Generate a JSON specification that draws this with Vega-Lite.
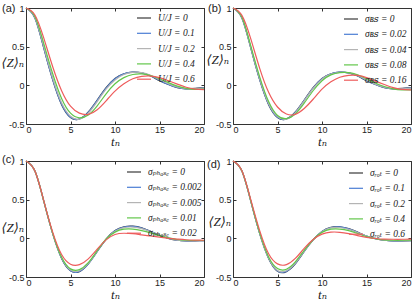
{
"$schema": "https://vega.github.io/schema/vega-lite/v6.json",
"padding": {"left": 0, "top": 2, "right": 0, "bottom": 0},
"columns": 2,
"spacing": {"row": 37, "column": 29},
"bounds": "flush",
"resolve": {"scale": {"color": "independent"}, "legend": {"color": "independent"}},
"config": {
  "view": {"stroke": "#333", "strokeWidth": 1},
  "axis": {"labelFont": "Liberation Sans", "labelFontSize": 9, "labelColor": "#222", "domain": false, "tickColor": "#333", "tickSize": -3, "grid": false, "titleFont": "Liberation Serif, DejaVu Serif", "titleFontStyle": "italic", "titleFontWeight": "normal", "titleFontSize": 13, "titleColor": "#222"},
  "legend": {"orient": "none", "symbolType": "stroke", "symbolSize": 196, "symbolStrokeWidth": 1.5, "labelFont": "Liberation Serif, DejaVu Serif", "labelFontStyle": "italic", "labelFontSize": 9.5, "labelColor": "#222", "rowPadding": 2.3, "padding": 0, "labelOffset": 6},
  "title": {"font": "Liberation Sans", "fontSize": 11, "fontWeight": "normal", "color": "#222", "anchor": "start", "frame": "group", "baseline": "middle"},
  "line": {"strokeWidth": 1.2, "interpolate": "natural"}
},
"concat": [
{
 "width": 178, "height": 116,
 "title": {"text": "(a)", "dx": -24, "offset": -10},
 "data": {"values": [
{"t":0,"s":"U/J = 0","z":1},{"t":1,"s":"U/J = 0","z":0.87},{"t":2,"s":"U/J = 0","z":0.48},{"t":3,"s":"U/J = 0","z":0.07},{"t":4,"s":"U/J = 0","z":-0.25},{"t":5,"s":"U/J = 0","z":-0.415},{"t":6,"s":"U/J = 0","z":-0.435},{"t":7,"s":"U/J = 0","z":-0.345},{"t":8,"s":"U/J = 0","z":-0.19},{"t":9,"s":"U/J = 0","z":-0.03},{"t":10,"s":"U/J = 0","z":0.09},{"t":11,"s":"U/J = 0","z":0.15},{"t":12,"s":"U/J = 0","z":0.17},{"t":13,"s":"U/J = 0","z":0.16},{"t":14,"s":"U/J = 0","z":0.12},{"t":15,"s":"U/J = 0","z":0.06},{"t":16,"s":"U/J = 0","z":0.01},{"t":17,"s":"U/J = 0","z":-0.03},{"t":18,"s":"U/J = 0","z":-0.045},{"t":19,"s":"U/J = 0","z":-0.04},{"t":20,"s":"U/J = 0","z":-0.03},
{"t":0,"s":"U/J = 0.1","z":1},{"t":1,"s":"U/J = 0.1","z":0.872},{"t":2,"s":"U/J = 0.1","z":0.485},{"t":3,"s":"U/J = 0.1","z":0.075},{"t":4,"s":"U/J = 0.1","z":-0.245},{"t":5,"s":"U/J = 0.1","z":-0.413},{"t":6,"s":"U/J = 0.1","z":-0.436},{"t":7,"s":"U/J = 0.1","z":-0.35},{"t":8,"s":"U/J = 0.1","z":-0.195},{"t":9,"s":"U/J = 0.1","z":-0.035},{"t":10,"s":"U/J = 0.1","z":0.085},{"t":11,"s":"U/J = 0.1","z":0.148},{"t":12,"s":"U/J = 0.1","z":0.17},{"t":13,"s":"U/J = 0.1","z":0.162},{"t":14,"s":"U/J = 0.1","z":0.123},{"t":15,"s":"U/J = 0.1","z":0.063},{"t":16,"s":"U/J = 0.1","z":0.012},{"t":17,"s":"U/J = 0.1","z":-0.028},{"t":18,"s":"U/J = 0.1","z":-0.045},{"t":19,"s":"U/J = 0.1","z":-0.042},{"t":20,"s":"U/J = 0.1","z":-0.032},
{"t":0,"s":"U/J = 0.2","z":1},{"t":1,"s":"U/J = 0.2","z":0.878},{"t":2,"s":"U/J = 0.2","z":0.5},{"t":3,"s":"U/J = 0.2","z":0.095},{"t":4,"s":"U/J = 0.2","z":-0.225},{"t":5,"s":"U/J = 0.2","z":-0.4},{"t":6,"s":"U/J = 0.2","z":-0.437},{"t":7,"s":"U/J = 0.2","z":-0.36},{"t":8,"s":"U/J = 0.2","z":-0.21},{"t":9,"s":"U/J = 0.2","z":-0.05},{"t":10,"s":"U/J = 0.2","z":0.07},{"t":11,"s":"U/J = 0.2","z":0.14},{"t":12,"s":"U/J = 0.2","z":0.168},{"t":13,"s":"U/J = 0.2","z":0.165},{"t":14,"s":"U/J = 0.2","z":0.13},{"t":15,"s":"U/J = 0.2","z":0.075},{"t":16,"s":"U/J = 0.2","z":0.02},{"t":17,"s":"U/J = 0.2","z":-0.022},{"t":18,"s":"U/J = 0.2","z":-0.043},{"t":19,"s":"U/J = 0.2","z":-0.045},{"t":20,"s":"U/J = 0.2","z":-0.037},
{"t":0,"s":"U/J = 0.4","z":1},{"t":1,"s":"U/J = 0.4","z":0.89},{"t":2,"s":"U/J = 0.4","z":0.54},{"t":3,"s":"U/J = 0.4","z":0.15},{"t":4,"s":"U/J = 0.4","z":-0.17},{"t":5,"s":"U/J = 0.4","z":-0.36},{"t":6,"s":"U/J = 0.4","z":-0.42},{"t":7,"s":"U/J = 0.4","z":-0.385},{"t":8,"s":"U/J = 0.4","z":-0.265},{"t":9,"s":"U/J = 0.4","z":-0.11},{"t":10,"s":"U/J = 0.4","z":0.02},{"t":11,"s":"U/J = 0.4","z":0.1},{"t":12,"s":"U/J = 0.4","z":0.14},{"t":13,"s":"U/J = 0.4","z":0.147},{"t":14,"s":"U/J = 0.4","z":0.125},{"t":15,"s":"U/J = 0.4","z":0.085},{"t":16,"s":"U/J = 0.4","z":0.035},{"t":17,"s":"U/J = 0.4","z":-0.01},{"t":18,"s":"U/J = 0.4","z":-0.04},{"t":19,"s":"U/J = 0.4","z":-0.052},{"t":20,"s":"U/J = 0.4","z":-0.05},
{"t":0,"s":"U/J = 0.6","z":1},{"t":1,"s":"U/J = 0.6","z":0.91},{"t":2,"s":"U/J = 0.6","z":0.61},{"t":3,"s":"U/J = 0.6","z":0.24},{"t":4,"s":"U/J = 0.6","z":-0.07},{"t":5,"s":"U/J = 0.6","z":-0.27},{"t":6,"s":"U/J = 0.6","z":-0.36},{"t":7,"s":"U/J = 0.6","z":-0.375},{"t":8,"s":"U/J = 0.6","z":-0.315},{"t":9,"s":"U/J = 0.6","z":-0.2},{"t":10,"s":"U/J = 0.6","z":-0.075},{"t":11,"s":"U/J = 0.6","z":0.02},{"t":12,"s":"U/J = 0.6","z":0.085},{"t":13,"s":"U/J = 0.6","z":0.115},{"t":14,"s":"U/J = 0.6","z":0.12},{"t":15,"s":"U/J = 0.6","z":0.1},{"t":16,"s":"U/J = 0.6","z":0.06},{"t":17,"s":"U/J = 0.6","z":0.015},{"t":18,"s":"U/J = 0.6","z":-0.025},{"t":19,"s":"U/J = 0.6","z":-0.048},{"t":20,"s":"U/J = 0.6","z":-0.055}
 ]},
 "layer": [
  {"mark": {"type": "line"},
   "encoding": {
    "x": {"field": "t", "type": "quantitative", "scale": {"domain": [0, 20], "nice": false}, "axis": {"values": [0,5,10,15,20], "title": "tₙ", "labelPadding": 4, "titlePadding": 1}},
    "y": {"field": "z", "type": "quantitative", "scale": {"domain": [-0.5, 1], "nice": false}, "axis": {"values": [-0.5,0,0.5,1], "labelExpr": "''+datum.value", "labelPadding": 5, "title": "⟨Z⟩ₙ", "titleAngle": 0, "titleAlign": "left", "titleBaseline": "middle", "titleX": -25, "titleY": 54}},
    "color": {"field": "s", "type": "nominal", "scale": {"domain": ["U/J = 0","U/J = 0.1","U/J = 0.2","U/J = 0.4","U/J = 0.6"], "range": ["#3a3a3a","#4a7dd4","#b4b4b4","#62c64a","#ee5c5c"]}, "legend": {"title": null, "legendX": 110, "legendY": 2}}
   }},
  {"mark": {"type": "line", "strokeOpacity": 0},
   "encoding": {
    "x": {"field": "t", "type": "quantitative", "axis": {"orient": "top", "values": [0,5,10,15,20], "labels": false, "title": null}},
    "y": {"field": "z", "type": "quantitative", "axis": {"orient": "right", "values": [-0.5,0,0.5,1], "labels": false, "title": null}},
    "detail": {"field": "s"}
   }}
 ],
 "resolve": {"axis": {"x": "independent", "y": "independent"}}
},
{
 "width": 178, "height": 116,
 "title": {"text": "(b)", "dx": -25, "offset": -10},
 "data": {"values": [
{"t":0,"s":"σʙꜱ = 0","z":1},{"t":1,"s":"σʙꜱ = 0","z":0.87},{"t":2,"s":"σʙꜱ = 0","z":0.48},{"t":3,"s":"σʙꜱ = 0","z":0.07},{"t":4,"s":"σʙꜱ = 0","z":-0.25},{"t":5,"s":"σʙꜱ = 0","z":-0.415},{"t":6,"s":"σʙꜱ = 0","z":-0.435},{"t":7,"s":"σʙꜱ = 0","z":-0.345},{"t":8,"s":"σʙꜱ = 0","z":-0.19},{"t":9,"s":"σʙꜱ = 0","z":-0.03},{"t":10,"s":"σʙꜱ = 0","z":0.09},{"t":11,"s":"σʙꜱ = 0","z":0.15},{"t":12,"s":"σʙꜱ = 0","z":0.17},{"t":13,"s":"σʙꜱ = 0","z":0.16},{"t":14,"s":"σʙꜱ = 0","z":0.12},{"t":15,"s":"σʙꜱ = 0","z":0.06},{"t":16,"s":"σʙꜱ = 0","z":0.01},{"t":17,"s":"σʙꜱ = 0","z":-0.03},{"t":18,"s":"σʙꜱ = 0","z":-0.045},{"t":19,"s":"σʙꜱ = 0","z":-0.04},{"t":20,"s":"σʙꜱ = 0","z":-0.03},
{"t":0,"s":"σʙꜱ = 0.02","z":1},{"t":1,"s":"σʙꜱ = 0.02","z":0.872},{"t":2,"s":"σʙꜱ = 0.02","z":0.485},{"t":3,"s":"σʙꜱ = 0.02","z":0.075},{"t":4,"s":"σʙꜱ = 0.02","z":-0.245},{"t":5,"s":"σʙꜱ = 0.02","z":-0.413},{"t":6,"s":"σʙꜱ = 0.02","z":-0.436},{"t":7,"s":"σʙꜱ = 0.02","z":-0.35},{"t":8,"s":"σʙꜱ = 0.02","z":-0.195},{"t":9,"s":"σʙꜱ = 0.02","z":-0.035},{"t":10,"s":"σʙꜱ = 0.02","z":0.085},{"t":11,"s":"σʙꜱ = 0.02","z":0.148},{"t":12,"s":"σʙꜱ = 0.02","z":0.17},{"t":13,"s":"σʙꜱ = 0.02","z":0.162},{"t":14,"s":"σʙꜱ = 0.02","z":0.123},{"t":15,"s":"σʙꜱ = 0.02","z":0.063},{"t":16,"s":"σʙꜱ = 0.02","z":0.012},{"t":17,"s":"σʙꜱ = 0.02","z":-0.028},{"t":18,"s":"σʙꜱ = 0.02","z":-0.045},{"t":19,"s":"σʙꜱ = 0.02","z":-0.042},{"t":20,"s":"σʙꜱ = 0.02","z":-0.032},
{"t":0,"s":"σʙꜱ = 0.04","z":1},{"t":1,"s":"σʙꜱ = 0.04","z":0.875},{"t":2,"s":"σʙꜱ = 0.04","z":0.49},{"t":3,"s":"σʙꜱ = 0.04","z":0.085},{"t":4,"s":"σʙꜱ = 0.04","z":-0.235},{"t":5,"s":"σʙꜱ = 0.04","z":-0.405},{"t":6,"s":"σʙꜱ = 0.04","z":-0.437},{"t":7,"s":"σʙꜱ = 0.04","z":-0.355},{"t":8,"s":"σʙꜱ = 0.04","z":-0.2},{"t":9,"s":"σʙꜱ = 0.04","z":-0.04},{"t":10,"s":"σʙꜱ = 0.04","z":0.08},{"t":11,"s":"σʙꜱ = 0.04","z":0.145},{"t":12,"s":"σʙꜱ = 0.04","z":0.168},{"t":13,"s":"σʙꜱ = 0.04","z":0.163},{"t":14,"s":"σʙꜱ = 0.04","z":0.127},{"t":15,"s":"σʙꜱ = 0.04","z":0.07},{"t":16,"s":"σʙꜱ = 0.04","z":0.016},{"t":17,"s":"σʙꜱ = 0.04","z":-0.025},{"t":18,"s":"σʙꜱ = 0.04","z":-0.045},{"t":19,"s":"σʙꜱ = 0.04","z":-0.045},{"t":20,"s":"σʙꜱ = 0.04","z":-0.035},
{"t":0,"s":"σʙꜱ = 0.08","z":1},{"t":1,"s":"σʙꜱ = 0.08","z":0.88},{"t":2,"s":"σʙꜱ = 0.08","z":0.51},{"t":3,"s":"σʙꜱ = 0.08","z":0.11},{"t":4,"s":"σʙꜱ = 0.08","z":-0.21},{"t":5,"s":"σʙꜱ = 0.08","z":-0.39},{"t":6,"s":"σʙꜱ = 0.08","z":-0.43},{"t":7,"s":"σʙꜱ = 0.08","z":-0.37},{"t":8,"s":"σʙꜱ = 0.08","z":-0.23},{"t":9,"s":"σʙꜱ = 0.08","z":-0.07},{"t":10,"s":"σʙꜱ = 0.08","z":0.06},{"t":11,"s":"σʙꜱ = 0.08","z":0.135},{"t":12,"s":"σʙꜱ = 0.08","z":0.165},{"t":13,"s":"σʙꜱ = 0.08","z":0.165},{"t":14,"s":"σʙꜱ = 0.08","z":0.135},{"t":15,"s":"σʙꜱ = 0.08","z":0.085},{"t":16,"s":"σʙꜱ = 0.08","z":0.03},{"t":17,"s":"σʙꜱ = 0.08","z":-0.015},{"t":18,"s":"σʙꜱ = 0.08","z":-0.045},{"t":19,"s":"σʙꜱ = 0.08","z":-0.058},{"t":20,"s":"σʙꜱ = 0.08","z":-0.06},
{"t":0,"s":"σʙꜱ = 0.16","z":1},{"t":1,"s":"σʙꜱ = 0.16","z":0.905},{"t":2,"s":"σʙꜱ = 0.16","z":0.6},{"t":3,"s":"σʙꜱ = 0.16","z":0.22},{"t":4,"s":"σʙꜱ = 0.16","z":-0.09},{"t":5,"s":"σʙꜱ = 0.16","z":-0.28},{"t":6,"s":"σʙꜱ = 0.16","z":-0.37},{"t":7,"s":"σʙꜱ = 0.16","z":-0.375},{"t":8,"s":"σʙꜱ = 0.16","z":-0.3},{"t":9,"s":"σʙꜱ = 0.16","z":-0.18},{"t":10,"s":"σʙꜱ = 0.16","z":-0.05},{"t":11,"s":"σʙꜱ = 0.16","z":0.045},{"t":12,"s":"σʙꜱ = 0.16","z":0.105},{"t":13,"s":"σʙꜱ = 0.16","z":0.13},{"t":14,"s":"σʙꜱ = 0.16","z":0.128},{"t":15,"s":"σʙꜱ = 0.16","z":0.1},{"t":16,"s":"σʙꜱ = 0.16","z":0.055},{"t":17,"s":"σʙꜱ = 0.16","z":0.01},{"t":18,"s":"σʙꜱ = 0.16","z":-0.03},{"t":19,"s":"σʙꜱ = 0.16","z":-0.052},{"t":20,"s":"σʙꜱ = 0.16","z":-0.06}
 ]},
 "layer": [
  {"mark": {"type": "line"},
   "encoding": {
    "x": {"field": "t", "type": "quantitative", "scale": {"domain": [0, 20], "nice": false}, "axis": {"values": [0,5,10,15,20], "title": "tₙ", "labelPadding": 4, "titlePadding": 1}},
    "y": {"field": "z", "type": "quantitative", "scale": {"domain": [-0.5, 1], "nice": false}, "axis": {"values": [-0.5,0,0.5,1], "labelExpr": "''+datum.value", "labelPadding": 5, "title": "⟨Z⟩ₙ", "titleAngle": 0, "titleAlign": "left", "titleBaseline": "middle", "titleX": -27, "titleY": 51}},
    "color": {"field": "s", "type": "nominal", "scale": {"domain": ["σʙꜱ = 0","σʙꜱ = 0.02","σʙꜱ = 0.04","σʙꜱ = 0.08","σʙꜱ = 0.16"], "range": ["#3a3a3a","#4a7dd4","#b4b4b4","#62c64a","#ee5c5c"]}, "legend": {"title": null, "legendX": 110, "legendY": 3}}
   }},
  {"mark": {"type": "line", "strokeOpacity": 0},
   "encoding": {
    "x": {"field": "t", "type": "quantitative", "axis": {"orient": "top", "values": [0,5,10,15,20], "labels": false, "title": null}},
    "y": {"field": "z", "type": "quantitative", "axis": {"orient": "right", "values": [-0.5,0,0.5,1], "labels": false, "title": null}},
    "detail": {"field": "s"}
   }}
 ],
 "resolve": {"axis": {"x": "independent", "y": "independent"}}
},
{
 "width": 178, "height": 116,
 "title": {"text": "(c)", "dx": -24, "offset": -8},
 "data": {"values": [
{"t":0,"s":"σₚₕₐₛₑ = 0","z":1},{"t":1,"s":"σₚₕₐₛₑ = 0","z":0.87},{"t":2,"s":"σₚₕₐₛₑ = 0","z":0.48},{"t":3,"s":"σₚₕₐₛₑ = 0","z":0.06},{"t":4,"s":"σₚₕₐₛₑ = 0","z":-0.26},{"t":5,"s":"σₚₕₐₛₑ = 0","z":-0.42},{"t":6,"s":"σₚₕₐₛₑ = 0","z":-0.43},{"t":7,"s":"σₚₕₐₛₑ = 0","z":-0.33},{"t":8,"s":"σₚₕₐₛₑ = 0","z":-0.17},{"t":9,"s":"σₚₕₐₛₑ = 0","z":-0.01},{"t":10,"s":"σₚₕₐₛₑ = 0","z":0.1},{"t":11,"s":"σₚₕₐₛₑ = 0","z":0.15},{"t":12,"s":"σₚₕₐₛₑ = 0","z":0.157},{"t":13,"s":"σₚₕₐₛₑ = 0","z":0.135},{"t":14,"s":"σₚₕₐₛₑ = 0","z":0.09},{"t":15,"s":"σₚₕₐₛₑ = 0","z":0.04},{"t":16,"s":"σₚₕₐₛₑ = 0","z":0},{"t":17,"s":"σₚₕₐₛₑ = 0","z":-0.025},{"t":18,"s":"σₚₕₐₛₑ = 0","z":-0.033},{"t":19,"s":"σₚₕₐₛₑ = 0","z":-0.032},{"t":20,"s":"σₚₕₐₛₑ = 0","z":-0.03},
{"t":0,"s":"σₚₕₐₛₑ = 0.002","z":1},{"t":1,"s":"σₚₕₐₛₑ = 0.002","z":0.87},{"t":2,"s":"σₚₕₐₛₑ = 0.002","z":0.48},{"t":3,"s":"σₚₕₐₛₑ = 0.002","z":0.06},{"t":4,"s":"σₚₕₐₛₑ = 0.002","z":-0.258},{"t":5,"s":"σₚₕₐₛₑ = 0.002","z":-0.418},{"t":6,"s":"σₚₕₐₛₑ = 0.002","z":-0.428},{"t":7,"s":"σₚₕₐₛₑ = 0.002","z":-0.33},{"t":8,"s":"σₚₕₐₛₑ = 0.002","z":-0.17},{"t":9,"s":"σₚₕₐₛₑ = 0.002","z":-0.012},{"t":10,"s":"σₚₕₐₛₑ = 0.002","z":0.097},{"t":11,"s":"σₚₕₐₛₑ = 0.002","z":0.147},{"t":12,"s":"σₚₕₐₛₑ = 0.002","z":0.155},{"t":13,"s":"σₚₕₐₛₑ = 0.002","z":0.133},{"t":14,"s":"σₚₕₐₛₑ = 0.002","z":0.09},{"t":15,"s":"σₚₕₐₛₑ = 0.002","z":0.04},{"t":16,"s":"σₚₕₐₛₑ = 0.002","z":0},{"t":17,"s":"σₚₕₐₛₑ = 0.002","z":-0.024},{"t":18,"s":"σₚₕₐₛₑ = 0.002","z":-0.032},{"t":19,"s":"σₚₕₐₛₑ = 0.002","z":-0.031},{"t":20,"s":"σₚₕₐₛₑ = 0.002","z":-0.03},
{"t":0,"s":"σₚₕₐₛₑ = 0.005","z":1},{"t":1,"s":"σₚₕₐₛₑ = 0.005","z":0.87},{"t":2,"s":"σₚₕₐₛₑ = 0.005","z":0.48},{"t":3,"s":"σₚₕₐₛₑ = 0.005","z":0.062},{"t":4,"s":"σₚₕₐₛₑ = 0.005","z":-0.25},{"t":5,"s":"σₚₕₐₛₑ = 0.005","z":-0.41},{"t":6,"s":"σₚₕₐₛₑ = 0.005","z":-0.42},{"t":7,"s":"σₚₕₐₛₑ = 0.005","z":-0.325},{"t":8,"s":"σₚₕₐₛₑ = 0.005","z":-0.165},{"t":9,"s":"σₚₕₐₛₑ = 0.005","z":-0.01},{"t":10,"s":"σₚₕₐₛₑ = 0.005","z":0.09},{"t":11,"s":"σₚₕₐₛₑ = 0.005","z":0.138},{"t":12,"s":"σₚₕₐₛₑ = 0.005","z":0.145},{"t":13,"s":"σₚₕₐₛₑ = 0.005","z":0.125},{"t":14,"s":"σₚₕₐₛₑ = 0.005","z":0.085},{"t":15,"s":"σₚₕₐₛₑ = 0.005","z":0.04},{"t":16,"s":"σₚₕₐₛₑ = 0.005","z":0.002},{"t":17,"s":"σₚₕₐₛₑ = 0.005","z":-0.022},{"t":18,"s":"σₚₕₐₛₑ = 0.005","z":-0.03},{"t":19,"s":"σₚₕₐₛₑ = 0.005","z":-0.03},{"t":20,"s":"σₚₕₐₛₑ = 0.005","z":-0.03},
{"t":0,"s":"σₚₕₐₛₑ = 0.01","z":1},{"t":1,"s":"σₚₕₐₛₑ = 0.01","z":0.87},{"t":2,"s":"σₚₕₐₛₑ = 0.01","z":0.48},{"t":3,"s":"σₚₕₐₛₑ = 0.01","z":0.065},{"t":4,"s":"σₚₕₐₛₑ = 0.01","z":-0.245},{"t":5,"s":"σₚₕₐₛₑ = 0.01","z":-0.395},{"t":6,"s":"σₚₕₐₛₑ = 0.01","z":-0.405},{"t":7,"s":"σₚₕₐₛₑ = 0.01","z":-0.315},{"t":8,"s":"σₚₕₐₛₑ = 0.01","z":-0.16},{"t":9,"s":"σₚₕₐₛₑ = 0.01","z":-0.012},{"t":10,"s":"σₚₕₐₛₑ = 0.01","z":0.08},{"t":11,"s":"σₚₕₐₛₑ = 0.01","z":0.118},{"t":12,"s":"σₚₕₐₛₑ = 0.01","z":0.12},{"t":13,"s":"σₚₕₐₛₑ = 0.01","z":0.1},{"t":14,"s":"σₚₕₐₛₑ = 0.01","z":0.07},{"t":15,"s":"σₚₕₐₛₑ = 0.01","z":0.035},{"t":16,"s":"σₚₕₐₛₑ = 0.01","z":0.005},{"t":17,"s":"σₚₕₐₛₑ = 0.01","z":-0.015},{"t":18,"s":"σₚₕₐₛₑ = 0.01","z":-0.025},{"t":19,"s":"σₚₕₐₛₑ = 0.01","z":-0.028},{"t":20,"s":"σₚₕₐₛₑ = 0.01","z":-0.028},
{"t":0,"s":"σₚₕₐₛₑ = 0.02","z":1},{"t":1,"s":"σₚₕₐₛₑ = 0.02","z":0.87},{"t":2,"s":"σₚₕₐₛₑ = 0.02","z":0.485},{"t":3,"s":"σₚₕₐₛₑ = 0.02","z":0.08},{"t":4,"s":"σₚₕₐₛₑ = 0.02","z":-0.21},{"t":5,"s":"σₚₕₐₛₑ = 0.02","z":-0.335},{"t":6,"s":"σₚₕₐₛₑ = 0.02","z":-0.34},{"t":7,"s":"σₚₕₐₛₑ = 0.02","z":-0.265},{"t":8,"s":"σₚₕₐₛₑ = 0.02","z":-0.14},{"t":9,"s":"σₚₕₐₛₑ = 0.02","z":-0.02},{"t":10,"s":"σₚₕₐₛₑ = 0.02","z":0.05},{"t":11,"s":"σₚₕₐₛₑ = 0.02","z":0.066},{"t":12,"s":"σₚₕₐₛₑ = 0.02","z":0.06},{"t":13,"s":"σₚₕₐₛₑ = 0.02","z":0.045},{"t":14,"s":"σₚₕₐₛₑ = 0.02","z":0.03},{"t":15,"s":"σₚₕₐₛₑ = 0.02","z":0.015},{"t":16,"s":"σₚₕₐₛₑ = 0.02","z":0},{"t":17,"s":"σₚₕₐₛₑ = 0.02","z":-0.01},{"t":18,"s":"σₚₕₐₛₑ = 0.02","z":-0.018},{"t":19,"s":"σₚₕₐₛₑ = 0.02","z":-0.022},{"t":20,"s":"σₚₕₐₛₑ = 0.02","z":-0.025}
 ]},
 "layer": [
  {"mark": {"type": "line"},
   "encoding": {
    "x": {"field": "t", "type": "quantitative", "scale": {"domain": [0, 20], "nice": false}, "axis": {"values": [0,5,10,15,20], "title": "tₙ", "labelPadding": 4, "titlePadding": 1}},
    "y": {"field": "z", "type": "quantitative", "scale": {"domain": [-0.5, 1], "nice": false}, "axis": {"values": [-0.5,0,0.5,1], "labelExpr": "''+datum.value", "labelPadding": 5, "title": "⟨Z⟩ₙ", "titleAngle": 0, "titleAlign": "left", "titleBaseline": "middle", "titleX": -25, "titleY": 66}},
    "color": {"field": "s", "type": "nominal", "scale": {"domain": ["σₚₕₐₛₑ = 0","σₚₕₐₛₑ = 0.002","σₚₕₐₛₑ = 0.005","σₚₕₐₛₑ = 0.01","σₚₕₐₛₑ = 0.02"], "range": ["#3a3a3a","#4a7dd4","#b4b4b4","#62c64a","#ee5c5c"]}, "legend": {"title": null, "legendX": 100, "legendY": 3}}
   }},
  {"mark": {"type": "line", "strokeOpacity": 0},
   "encoding": {
    "x": {"field": "t", "type": "quantitative", "axis": {"orient": "top", "values": [0,5,10,15,20], "labels": false, "title": null}},
    "y": {"field": "z", "type": "quantitative", "axis": {"orient": "right", "values": [-0.5,0,0.5,1], "labels": false, "title": null}},
    "detail": {"field": "s"}
   }}
 ],
 "resolve": {"axis": {"x": "independent", "y": "independent"}}
},
{
 "width": 178, "height": 116,
 "title": {"text": "(d)", "dx": -26, "offset": -13},
 "data": {"values": [
{"t":0,"s":"σᵣₒₜ = 0","z":1},{"t":1,"s":"σᵣₒₜ = 0","z":0.87},{"t":2,"s":"σᵣₒₜ = 0","z":0.48},{"t":3,"s":"σᵣₒₜ = 0","z":0.06},{"t":4,"s":"σᵣₒₜ = 0","z":-0.26},{"t":5,"s":"σᵣₒₜ = 0","z":-0.425},{"t":6,"s":"σᵣₒₜ = 0","z":-0.43},{"t":7,"s":"σᵣₒₜ = 0","z":-0.33},{"t":8,"s":"σᵣₒₜ = 0","z":-0.17},{"t":9,"s":"σᵣₒₜ = 0","z":-0.02},{"t":10,"s":"σᵣₒₜ = 0","z":0.09},{"t":11,"s":"σᵣₒₜ = 0","z":0.143},{"t":12,"s":"σᵣₒₜ = 0","z":0.15},{"t":13,"s":"σᵣₒₜ = 0","z":0.125},{"t":14,"s":"σᵣₒₜ = 0","z":0.08},{"t":15,"s":"σᵣₒₜ = 0","z":0.03},{"t":16,"s":"σᵣₒₜ = 0","z":-0.005},{"t":17,"s":"σᵣₒₜ = 0","z":-0.025},{"t":18,"s":"σᵣₒₜ = 0","z":-0.033},{"t":19,"s":"σᵣₒₜ = 0","z":-0.033},{"t":20,"s":"σᵣₒₜ = 0","z":-0.03},
{"t":0,"s":"σᵣₒₜ = 0.1","z":1},{"t":1,"s":"σᵣₒₜ = 0.1","z":0.87},{"t":2,"s":"σᵣₒₜ = 0.1","z":0.48},{"t":3,"s":"σᵣₒₜ = 0.1","z":0.06},{"t":4,"s":"σᵣₒₜ = 0.1","z":-0.258},{"t":5,"s":"σᵣₒₜ = 0.1","z":-0.422},{"t":6,"s":"σᵣₒₜ = 0.1","z":-0.427},{"t":7,"s":"σᵣₒₜ = 0.1","z":-0.328},{"t":8,"s":"σᵣₒₜ = 0.1","z":-0.168},{"t":9,"s":"σᵣₒₜ = 0.1","z":-0.02},{"t":10,"s":"σᵣₒₜ = 0.1","z":0.088},{"t":11,"s":"σᵣₒₜ = 0.1","z":0.14},{"t":12,"s":"σᵣₒₜ = 0.1","z":0.147},{"t":13,"s":"σᵣₒₜ = 0.1","z":0.122},{"t":14,"s":"σᵣₒₜ = 0.1","z":0.078},{"t":15,"s":"σᵣₒₜ = 0.1","z":0.03},{"t":16,"s":"σᵣₒₜ = 0.1","z":-0.005},{"t":17,"s":"σᵣₒₜ = 0.1","z":-0.024},{"t":18,"s":"σᵣₒₜ = 0.1","z":-0.032},{"t":19,"s":"σᵣₒₜ = 0.1","z":-0.032},{"t":20,"s":"σᵣₒₜ = 0.1","z":-0.029},
{"t":0,"s":"σᵣₒₜ = 0.2","z":1},{"t":1,"s":"σᵣₒₜ = 0.2","z":0.87},{"t":2,"s":"σᵣₒₜ = 0.2","z":0.48},{"t":3,"s":"σᵣₒₜ = 0.2","z":0.063},{"t":4,"s":"σᵣₒₜ = 0.2","z":-0.255},{"t":5,"s":"σᵣₒₜ = 0.2","z":-0.415},{"t":6,"s":"σᵣₒₜ = 0.2","z":-0.42},{"t":7,"s":"σᵣₒₜ = 0.2","z":-0.322},{"t":8,"s":"σᵣₒₜ = 0.2","z":-0.165},{"t":9,"s":"σᵣₒₜ = 0.2","z":-0.02},{"t":10,"s":"σᵣₒₜ = 0.2","z":0.085},{"t":11,"s":"σᵣₒₜ = 0.2","z":0.135},{"t":12,"s":"σᵣₒₜ = 0.2","z":0.14},{"t":13,"s":"σᵣₒₜ = 0.2","z":0.117},{"t":14,"s":"σᵣₒₜ = 0.2","z":0.075},{"t":15,"s":"σᵣₒₜ = 0.2","z":0.028},{"t":16,"s":"σᵣₒₜ = 0.2","z":-0.005},{"t":17,"s":"σᵣₒₜ = 0.2","z":-0.023},{"t":18,"s":"σᵣₒₜ = 0.2","z":-0.03},{"t":19,"s":"σᵣₒₜ = 0.2","z":-0.03},{"t":20,"s":"σᵣₒₜ = 0.2","z":-0.027},
{"t":0,"s":"σᵣₒₜ = 0.4","z":1},{"t":1,"s":"σᵣₒₜ = 0.4","z":0.87},{"t":2,"s":"σᵣₒₜ = 0.4","z":0.485},{"t":3,"s":"σᵣₒₜ = 0.4","z":0.07},{"t":4,"s":"σᵣₒₜ = 0.4","z":-0.24},{"t":5,"s":"σᵣₒₜ = 0.4","z":-0.39},{"t":6,"s":"σᵣₒₜ = 0.4","z":-0.4},{"t":7,"s":"σᵣₒₜ = 0.4","z":-0.305},{"t":8,"s":"σᵣₒₜ = 0.4","z":-0.155},{"t":9,"s":"σᵣₒₜ = 0.4","z":-0.018},{"t":10,"s":"σᵣₒₜ = 0.4","z":0.077},{"t":11,"s":"σᵣₒₜ = 0.4","z":0.118},{"t":12,"s":"σᵣₒₜ = 0.4","z":0.12},{"t":13,"s":"σᵣₒₜ = 0.4","z":0.1},{"t":14,"s":"σᵣₒₜ = 0.4","z":0.063},{"t":15,"s":"σᵣₒₜ = 0.4","z":0.022},{"t":16,"s":"σᵣₒₜ = 0.4","z":-0.005},{"t":17,"s":"σᵣₒₜ = 0.4","z":-0.02},{"t":18,"s":"σᵣₒₜ = 0.4","z":-0.025},{"t":19,"s":"σᵣₒₜ = 0.4","z":-0.025},{"t":20,"s":"σᵣₒₜ = 0.4","z":-0.022},
{"t":0,"s":"σᵣₒₜ = 0.6","z":1},{"t":1,"s":"σᵣₒₜ = 0.6","z":0.875},{"t":2,"s":"σᵣₒₜ = 0.6","z":0.5},{"t":3,"s":"σᵣₒₜ = 0.6","z":0.1},{"t":4,"s":"σᵣₒₜ = 0.6","z":-0.2},{"t":5,"s":"σᵣₒₜ = 0.6","z":-0.33},{"t":6,"s":"σᵣₒₜ = 0.6","z":-0.34},{"t":7,"s":"σᵣₒₜ = 0.6","z":-0.26},{"t":8,"s":"σᵣₒₜ = 0.6","z":-0.13},{"t":9,"s":"σᵣₒₜ = 0.6","z":-0.015},{"t":10,"s":"σᵣₒₜ = 0.6","z":0.055},{"t":11,"s":"σᵣₒₜ = 0.6","z":0.08},{"t":12,"s":"σᵣₒₜ = 0.6","z":0.078},{"t":13,"s":"σᵣₒₜ = 0.6","z":0.06},{"t":14,"s":"σᵣₒₜ = 0.6","z":0.035},{"t":15,"s":"σᵣₒₜ = 0.6","z":0.012},{"t":16,"s":"σᵣₒₜ = 0.6","z":-0.002},{"t":17,"s":"σᵣₒₜ = 0.6","z":-0.01},{"t":18,"s":"σᵣₒₜ = 0.6","z":-0.012},{"t":19,"s":"σᵣₒₜ = 0.6","z":-0.012},{"t":20,"s":"σᵣₒₜ = 0.6","z":-0.01}
 ]},
 "layer": [
  {"mark": {"type": "line"},
   "encoding": {
    "x": {"field": "t", "type": "quantitative", "scale": {"domain": [0, 20], "nice": false}, "axis": {"values": [0,5,10,15,20], "title": "tₙ", "labelPadding": 4, "titlePadding": 1}},
    "y": {"field": "z", "type": "quantitative", "scale": {"domain": [-0.5, 1], "nice": false}, "axis": {"values": [-0.5,0,0.5,1], "labelExpr": "''+datum.value", "labelPadding": 5, "title": "⟨Z⟩ₙ", "titleAngle": 0, "titleAlign": "left", "titleBaseline": "middle", "titleX": -25, "titleY": 60}},
    "color": {"field": "s", "type": "nominal", "scale": {"domain": ["σᵣₒₜ = 0","σᵣₒₜ = 0.1","σᵣₒₜ = 0.2","σᵣₒₜ = 0.4","σᵣₒₜ = 0.6"], "range": ["#3a3a3a","#4a7dd4","#b4b4b4","#62c64a","#ee5c5c"]}, "legend": {"title": null, "legendX": 115, "legendY": 4}}
   }},
  {"mark": {"type": "line", "strokeOpacity": 0},
   "encoding": {
    "x": {"field": "t", "type": "quantitative", "axis": {"orient": "top", "values": [0,5,10,15,20], "labels": false, "title": null}},
    "y": {"field": "z", "type": "quantitative", "axis": {"orient": "right", "values": [-0.5,0,0.5,1], "labels": false, "title": null}},
    "detail": {"field": "s"}
   }}
 ],
 "resolve": {"axis": {"x": "independent", "y": "independent"}}
}
]
}
